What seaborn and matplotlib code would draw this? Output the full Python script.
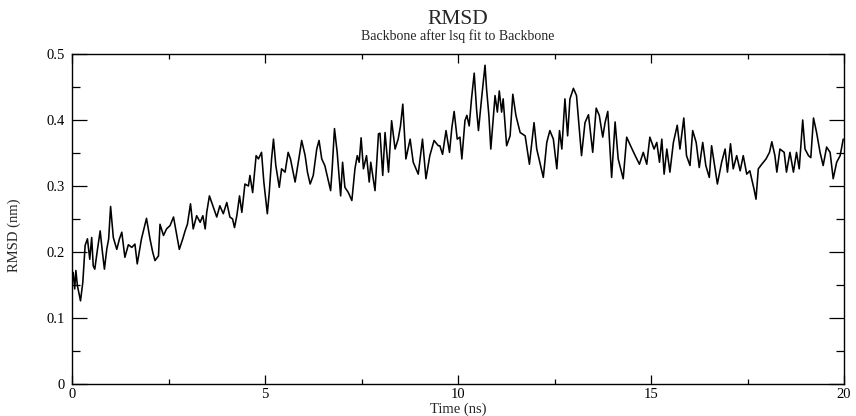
import matplotlib
matplotlib.use("Agg")
import matplotlib.pyplot as plt
from matplotlib.ticker import MultipleLocator
import seaborn as sns
import pandas as pd

# Backbone RMSD trajectory (time in ns, RMSD in nm)
time_ns = [
    0.00, 0.03, 0.07, 0.10, 0.14, 0.22, 0.28, 0.34, 0.40, 0.46, 0.51, 0.55, 0.59, 0.66,
    0.73, 0.78, 0.84, 0.90, 0.95, 1.00, 1.07, 1.16, 1.23, 1.29, 1.37, 1.46, 1.55, 1.63,
    1.69, 1.80, 1.93, 2.02, 2.09, 2.15, 2.24, 2.28, 2.37, 2.45, 2.54, 2.63, 2.70, 2.78,
    2.87, 2.93, 2.99, 3.07, 3.14, 3.23, 3.32, 3.39, 3.45, 3.49, 3.56, 3.66, 3.75, 3.83,
    3.92, 4.01, 4.09, 4.16, 4.21, 4.27, 4.34, 4.40, 4.48, 4.57,
    4.61, 4.68, 4.77, 4.83, 4.91, 4.97, 5.06, 5.11, 5.17, 5.22, 5.28, 5.37, 5.43, 5.52,
    5.60, 5.66, 5.78, 5.89, 5.95, 6.04, 6.10, 6.17, 6.25, 6.34, 6.40, 6.47, 6.55, 6.61,
    6.70, 6.74, 6.80, 6.87, 6.96, 7.01, 7.07, 7.16, 7.25, 7.33, 7.39, 7.44, 7.49, 7.55,
    7.63, 7.70, 7.74, 7.85, 7.94, 7.98, 8.05, 8.11, 8.20, 8.28, 8.37, 8.45, 8.51, 8.57,
    8.65, 8.76, 8.84, 8.97, 9.08, 9.17, 9.27, 9.38, 9.49,
    9.53, 9.60, 9.69, 9.78, 9.84, 9.90, 9.98, 10.05, 10.10, 10.18, 10.23, 10.29, 10.35,
    10.42, 10.48, 10.53, 10.61, 10.70, 10.74, 10.80, 10.85, 10.96, 11.02, 11.07, 11.13,
    11.17, 11.26, 11.35, 11.42, 11.50, 11.61, 11.74, 11.85, 11.97, 12.04, 12.12, 12.21,
    12.30, 12.38, 12.47, 12.56, 12.63, 12.69, 12.77, 12.84, 12.90, 12.99, 13.07, 13.12,
    13.20, 13.29, 13.38, 13.49, 13.58, 13.66, 13.75, 13.81, 13.88, 13.98, 14.07, 14.15,
    14.28, 14.37, 14.47, 14.59, 14.70,
    14.80, 14.89, 14.97, 15.08, 15.15, 15.22, 15.28, 15.34, 15.41, 15.49, 15.58, 15.68,
    15.75, 15.85, 15.92, 16.01, 16.08, 16.17, 16.25, 16.34, 16.42, 16.51, 16.57, 16.66,
    16.72, 16.83, 16.92, 16.98, 17.06, 17.13, 17.22, 17.31, 17.39, 17.48, 17.56, 17.67,
    17.72, 17.78, 17.87, 17.98, 18.07, 18.13, 18.21, 18.26, 18.34, 18.45, 18.51, 18.60,
    18.69, 18.77, 18.84, 18.93, 18.99, 19.08, 19.14, 19.21, 19.29, 19.38, 19.46, 19.55,
    19.64, 19.72, 19.81, 19.90, 19.98,
]

rmsd_nm = [
    0.154, 0.169, 0.144, 0.172, 0.149, 0.126, 0.154, 0.210, 0.220, 0.189, 0.222, 0.179, 0.174, 0.204,
    0.232, 0.204, 0.174, 0.204, 0.220, 0.269, 0.222, 0.204, 0.220, 0.230, 0.192, 0.211, 0.207, 0.212,
    0.182, 0.220, 0.251, 0.220, 0.200, 0.187, 0.194, 0.242, 0.225, 0.235, 0.240, 0.253, 0.230, 0.204,
    0.220, 0.232, 0.242, 0.273, 0.235, 0.255, 0.245, 0.255, 0.235, 0.260, 0.285, 0.268, 0.253, 0.270,
    0.258, 0.275, 0.253, 0.250, 0.237, 0.255, 0.285, 0.260, 0.303, 0.300,
    0.316, 0.290, 0.346, 0.341, 0.351, 0.306, 0.258, 0.290, 0.341, 0.371, 0.331, 0.298, 0.326, 0.321,
    0.351, 0.341, 0.306, 0.346, 0.369, 0.346, 0.321, 0.303, 0.316, 0.356, 0.369, 0.341, 0.331, 0.316,
    0.293, 0.326, 0.387, 0.351, 0.285, 0.336, 0.298, 0.290, 0.278, 0.326, 0.346, 0.336, 0.373, 0.326,
    0.346, 0.306, 0.336, 0.293, 0.379, 0.380, 0.316, 0.381, 0.321, 0.399, 0.356, 0.371, 0.391, 0.424,
    0.341, 0.371, 0.336, 0.318, 0.371, 0.311, 0.346, 0.369, 0.361,
    0.361, 0.348, 0.384, 0.351, 0.388, 0.413, 0.371, 0.374, 0.341, 0.399, 0.407, 0.391, 0.432,
    0.471, 0.417, 0.384, 0.432, 0.483, 0.447, 0.407, 0.356, 0.437, 0.412, 0.444, 0.412,
    0.432, 0.361, 0.376, 0.439, 0.407, 0.381, 0.376, 0.333, 0.396, 0.356, 0.336, 0.313,
    0.366, 0.384, 0.371, 0.326, 0.384, 0.356, 0.432, 0.376, 0.432, 0.448, 0.437, 0.402,
    0.346, 0.396, 0.408, 0.351, 0.418, 0.407, 0.374, 0.396, 0.413, 0.313, 0.397, 0.341,
    0.311, 0.374, 0.361, 0.346, 0.333,
    0.351, 0.333, 0.374, 0.356, 0.366, 0.336, 0.371, 0.318, 0.356, 0.321, 0.366, 0.392,
    0.356, 0.403, 0.346, 0.331, 0.384, 0.366, 0.328, 0.366, 0.331, 0.313, 0.361, 0.326,
    0.303, 0.336, 0.356, 0.321, 0.364, 0.326, 0.346, 0.323, 0.346, 0.318, 0.323, 0.295,
    0.280, 0.326, 0.333, 0.341, 0.351, 0.367, 0.346, 0.321, 0.356, 0.351, 0.321, 0.351,
    0.321, 0.351, 0.326, 0.400, 0.356, 0.346, 0.343, 0.403, 0.381, 0.351, 0.331, 0.359,
    0.351, 0.311, 0.336, 0.346, 0.371,
]

title = "RMSD"
subtitle = "Backbone after lsq fit to Backbone"
x_label = "Time (ns)"
y_label = "RMSD (nm)"

df = pd.DataFrame({"time": time_ns, "rmsd": rmsd_nm})

sns.set_theme(style="ticks")
plt.rcParams["font.family"] = ["Liberation Serif", "DejaVu Serif"]

fig = plt.figure(figsize=(8.56, 4.16), dpi=100)
ax = fig.add_axes([72 / 856, 1 - 384 / 416, 772 / 856, 330 / 416])

sns.lineplot(data=df, x="time", y="rmsd", ax=ax, color="black", linewidth=1.15,
             estimator=None, sort=False)

ax.set_xlim(0, 20)
ax.set_ylim(0, 0.5)
ax.xaxis.set_major_locator(MultipleLocator(5))
ax.xaxis.set_minor_locator(MultipleLocator(2.5))
ax.yaxis.set_major_locator(MultipleLocator(0.1))
ax.yaxis.set_minor_locator(MultipleLocator(0.05))
ax.xaxis.set_major_formatter(plt.FuncFormatter(lambda v, p: f"{v:g}"))
ax.yaxis.set_major_formatter(plt.FuncFormatter(lambda v, p: f"{v:g}"))

for side in ["top", "right", "bottom", "left"]:
    ax.spines[side].set_visible(True)
    ax.spines[side].set_color("black")
    ax.spines[side].set_linewidth(1.0)

ax.tick_params(axis="both", which="both", direction="in", top=True, right=True,
               colors="black", width=0.9, labelsize=10.5)
ax.tick_params(axis="x", which="major", length=6.5, pad=3)
ax.tick_params(axis="x", which="minor", length=3.3)
ax.tick_params(axis="y", which="major", length=11, pad=5)
ax.tick_params(axis="y", which="minor", length=6)

ax.set_xlabel(x_label, fontsize=10.5, labelpad=1)
ax.set_ylabel(y_label, fontsize=10.5, labelpad=14)
ax.yaxis.set_label_coords(-0.066, 0.45)

fig.text(458 / 856, 1 - 20 / 416, title, ha="center", va="center", fontsize=15.5)
fig.text(458 / 856, 1 - 36 / 416, subtitle, ha="center", va="center", fontsize=10)

ax.grid(False)
fig.savefig("out.png", dpi=100, facecolor="white")
